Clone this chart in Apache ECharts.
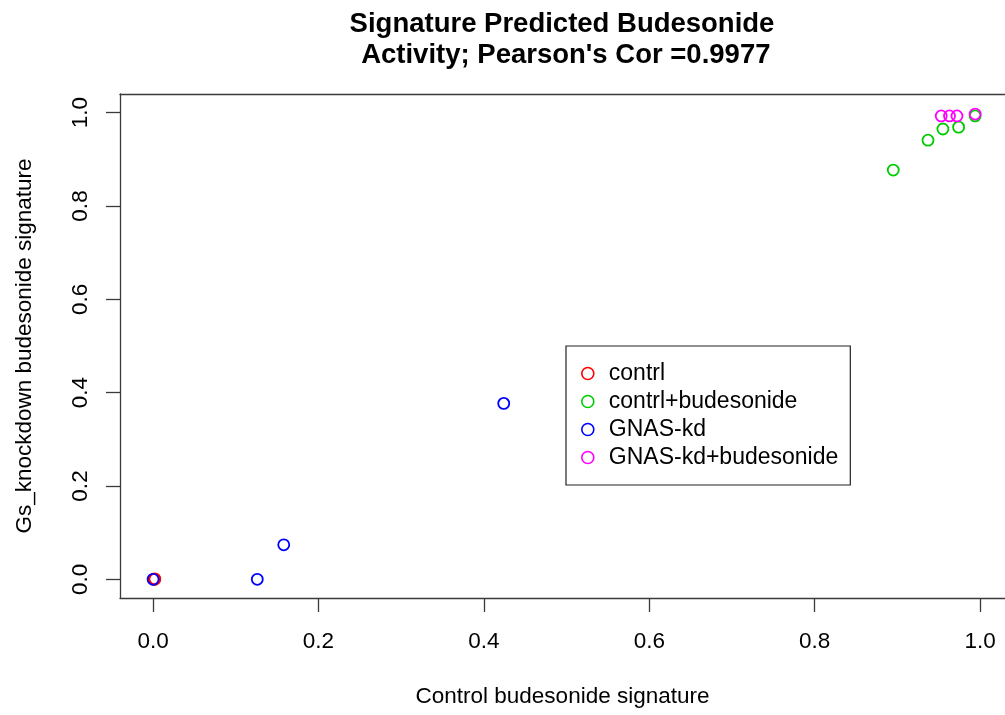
<!DOCTYPE html>
<html style="height: 100%">

<head>
    <meta charset="utf-8">
</head>

<body style="height: 100%; margin: 0; background: #fff">
    <div id="container" style="width: 1005px; height: 715px"></div>
    <script src="https://cdn.jsdelivr.net/npm/echarts@6/dist/echarts.min.js"></script>
    <script type="text/javascript">
        // series values [x, y]
        var contrl = [[0.002, 0.000], [0.002, 0.001], [0.001, 0.000]];
        var contrlBud = [[0.895, 0.877], [0.937, 0.941], [0.955, 0.965], [0.974, 0.969], [0.994, 0.993]];
        var gnasKd = [[0.000, 0.000], [0.126, 0.000], [0.158, 0.074], [0.424, 0.377]];
        var gnasKdBud = [[0.953, 0.993], [0.963, 0.993], [0.972, 0.993], [0.994, 0.997]];

        var names = ['contrl', 'contrl+budesonide', 'GNAS-kd', 'GNAS-kd+budesonide'];
        var colors = ['#ff0000', '#00cd00', '#0000ff', '#ff00ff'];
        var ticks = [0, 0.2, 0.4, 0.6, 0.8, 1.0];

        var font = 'Liberation Sans, Arial, Helvetica, sans-serif';
        var lineCol = '#3a3a3a';
        var dom = document.getElementById('container');
        var myChart = echarts.init(dom, null, { renderer: 'canvas' });

        var allData = [contrl, contrlBud, gnasKd, gnasKdBud];
        var series = allData.map(function (d, i) {
            return {
                name: names[i],
                type: 'scatter',
                data: d,
                symbol: 'circle',
                symbolSize: 11,
                itemStyle: {
                    color: 'rgba(255,255,255,0)',
                    borderColor: colors[i],
                    borderWidth: 1.8,
                    opacity: 1
                },
                emphasis: { disabled: true }
            };
        });

        var fmt = function (v) { return v.toFixed(1); };

        var option = {
            animation: false,
            backgroundColor: '#fff',
            title: {
                text: 'Signature Predicted Budesonide\n Activity; Pearson\'s Cor =0.9977',
                left: 557,
                top: 4,
                textAlign: 'center',
                textStyle: {
                    fontFamily: font,
                    fontWeight: 'bold',
                    fontSize: 27.5,
                    lineHeight: 31,
                    color: '#000'
                }
            },
            legend: {
                orient: 'vertical',
                left: 566,
                top: 346,
                padding: [16, 12, 16, 15],
                itemGap: 5,
                itemWidth: 32,
                itemHeight: 12,
                borderColor: '#222',
                borderWidth: 1.2,
                icon: 'circle',
                data: names.map(function (n, i) {
                    return {
                        name: n,
                        itemStyle: { color: 'rgba(255,255,255,0)', borderColor: colors[i], borderWidth: 1.6 }
                    };
                }),
                textStyle: { fontFamily: font, fontSize: 23, lineHeight: 23, color: '#000' }
            },
            grid: {
                left: 120,
                top: 94,
                right: 0,
                height: 504,
                show: false
            },
            xAxis: [{
                type: 'value',
                min: -0.04,
                max: 1.0301,
                name: 'Control budesonide signature',
                nameLocation: 'middle',
                nameGap: 87,
                nameTextStyle: { fontFamily: font, fontSize: 22.5, color: '#000' },
                axisLine: { show: true, onZero: false, lineStyle: { color: lineCol, width: 1.3 } },
                splitLine: { show: false },
                axisTick: { show: true, length: 14, customValues: ticks, lineStyle: { color: lineCol, width: 1.3 } },
                axisLabel: {
                    customValues: ticks,
                    margin: 32,
                    fontFamily: font,
                    fontSize: 22.5,
                    color: '#000',
                    formatter: fmt
                }
            }, {
                type: 'value',
                position: 'top',
                min: -0.04,
                max: 1.0301,
                axisLine: { show: true, onZero: false, lineStyle: { color: lineCol, width: 1.3 } },
                splitLine: { show: false },
                axisTick: { show: false },
                axisLabel: { show: false }
            }],
            yAxis: {
                type: 'value',
                min: -0.04,
                max: 1.04,
                name: 'Gs_knockdown budesonide signature',
                nameLocation: 'middle',
                nameGap: 84,
                nameTextStyle: { fontFamily: font, fontSize: 22.5, color: '#000' },
                axisLine: { show: true, onZero: false, lineStyle: { color: lineCol, width: 1.3 } },
                splitLine: { show: false },
                axisTick: { show: true, length: 14, customValues: ticks, lineStyle: { color: lineCol, width: 1.3 } },
                axisLabel: {
                    customValues: ticks,
                    rotate: 90,
                    margin: 28,
                    fontFamily: font,
                    fontSize: 22.5,
                    color: '#000',
                    formatter: fmt
                }
            },
            series: series
        };

        myChart.setOption(option);
    </script>
</body>

</html>
